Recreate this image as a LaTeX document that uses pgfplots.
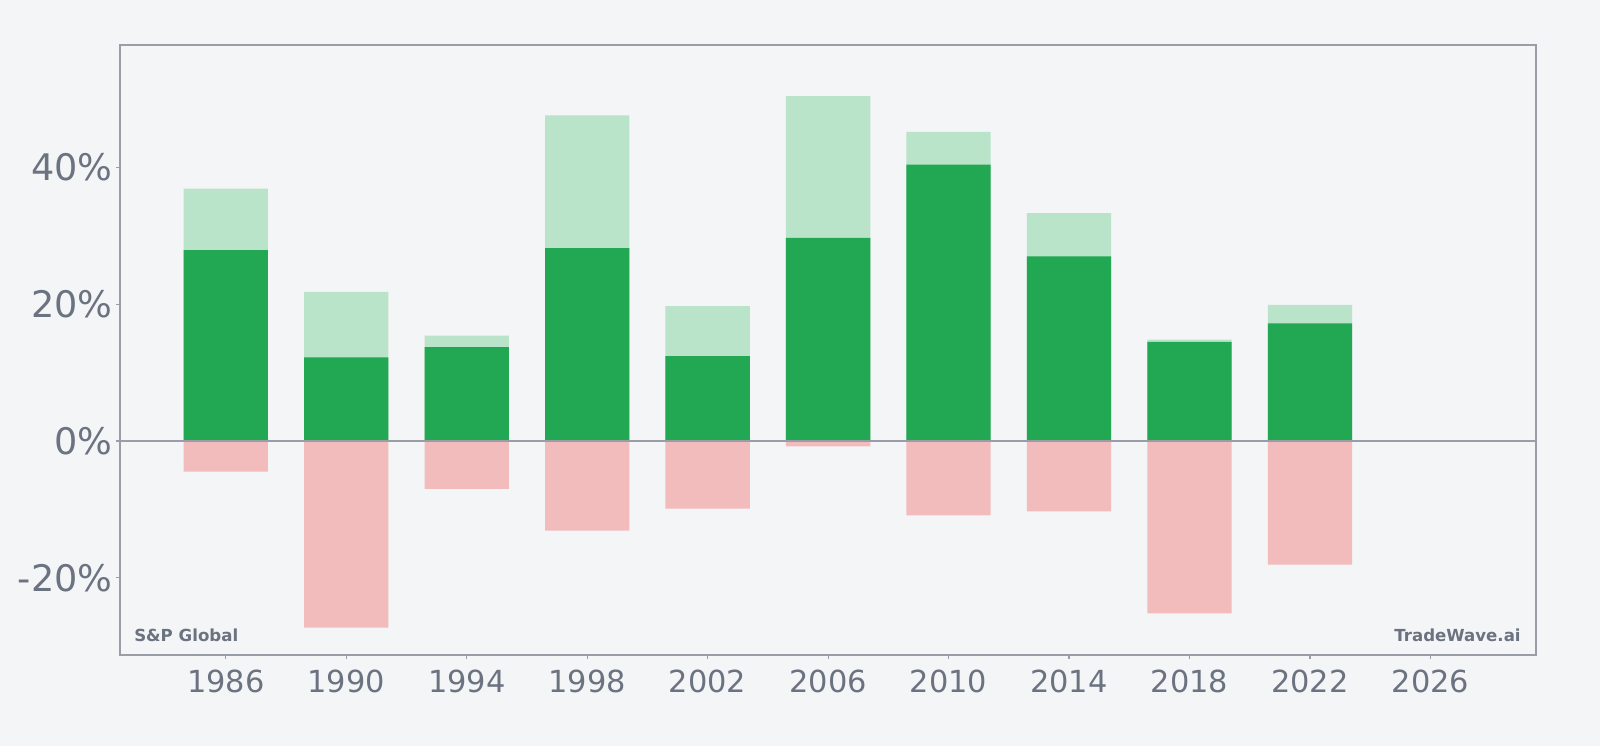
\documentclass[border=0pt]{standalone}
\usepackage{pgfplots}
\pgfplotsset{compat=1.18}
\usepackage{fontspec}
\setmainfont{DejaVu Sans}
\definecolor{bg}{HTML}{F4F5F7}
\definecolor{axc}{HTML}{9A9DA8}
\definecolor{txt}{HTML}{6B7280}
\definecolor{dkg}{HTML}{22A852}
\definecolor{ltg}{HTML}{B9E4C9}
\definecolor{lred}{HTML}{F2BCBC}
\pagecolor{bg}
\pgfplotstableread{
year high close low
1986 36.9 27.9 -4.5
1990 21.8 12.2 -27.3
1994 15.4 13.7 -7.0
1998 47.6 28.2 -13.1
2002 19.7 12.4 -9.9
2006 50.4 29.7 -0.8
2010 45.2 40.4 -10.9
2014 33.3 27.0 -10.3
2018 14.8 14.5 -25.2
2022 19.9 17.2 -18.1
}\data
\begin{document}
\begin{tikzpicture}
\begin{axis}[
  scale only axis,
  width=707.5pt, height=305pt,
  xmin=1982.5, xmax=2029.5,
  ymin=-31.3, ymax=57.9,
  xtick={1986,1990,...,2026},
  ytick={-20,0,20,40},
  yticklabel={\pgfmathprintnumber{\tick}\%},
  /pgf/number format/1000 sep={},
  /pgf/number format/assume math mode=true,
  xticklabel style={font=\fontsize{15.2}{17}\selectfont, text=txt},
  yticklabel style={font=\fontsize{18.3}{21}\selectfont, text=txt},
  axis line style={axc, line width=1pt},
  tick style={axc, line width=0.6pt},
  tick align=outside,
  major tick length=2pt,
  xtick pos=bottom, ytick pos=left,
  xticklabel shift=2pt, yticklabel shift=-1.5pt,
  ybar, bar width=2.8, bar shift=0pt,
  axis background/.style={fill=bg},
]
\addplot[draw=none, fill=ltg] table[x=year, y=high] {\data};
\addplot[draw=none, fill=dkg] table[x=year, y=close] {\data};
\addplot[draw=none, fill=lred] table[x=year, y=low] {\data};
\draw[axc, line width=1pt] (axis cs:1982.5,0) -- (axis cs:2029.5,0);
\node[anchor=base west, inner sep=0pt, font=\fontsize{8.3}{10}\selectfont\bfseries, text=txt] at (axis description cs:0.0095,0.023) {S\&P Global};
\node[anchor=base east, inner sep=0pt, font=\fontsize{8.3}{10}\selectfont\bfseries, text=txt] at (axis description cs:0.9896,0.023) {TradeWave.ai};
\coordinate (bl) at (axis description cs:-0.0851,-0.149);
\coordinate (tr) at (axis description cs:1.0454,1.0736);
\end{axis}
\path (bl) rectangle (tr);
\end{tikzpicture}
\end{document}
